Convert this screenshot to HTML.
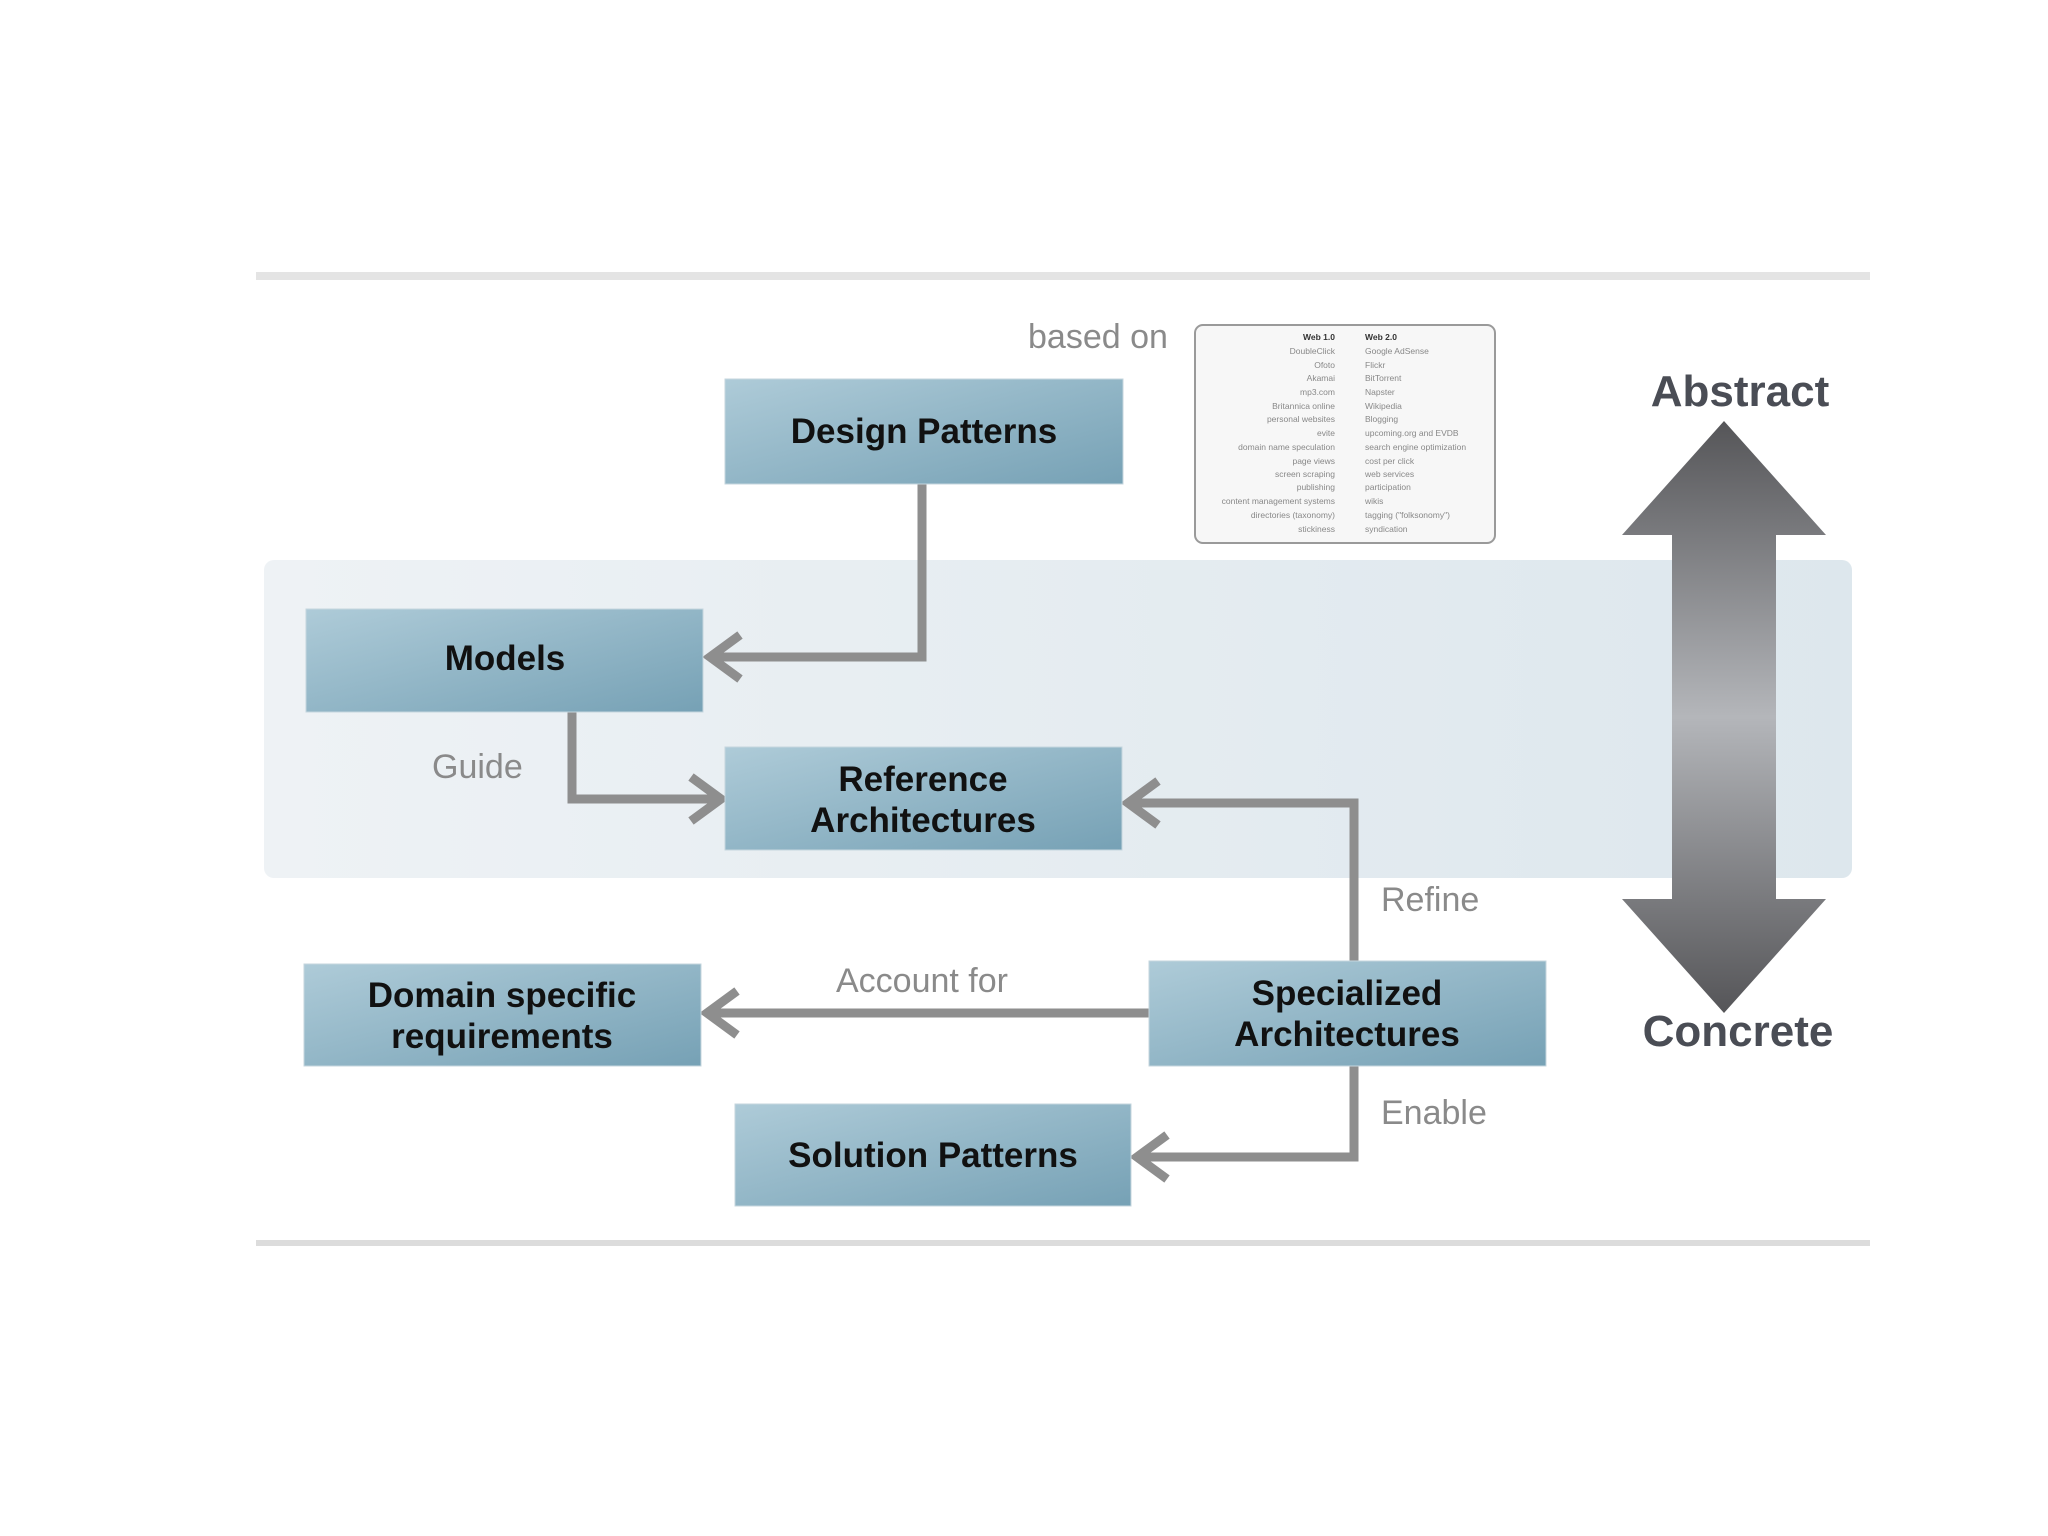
<!DOCTYPE html>
<html><head><meta charset="utf-8"><style>
html,body{margin:0;padding:0;background:#fff;}
svg{display:block;}
</style></head><body>
<svg width="2048" height="1536" viewBox="0 0 2048 1536" xmlns="http://www.w3.org/2000/svg" font-family="Liberation Sans, Arial, sans-serif">
<defs>
<linearGradient id="box" x1="0" y1="0" x2="1" y2="1">
<stop offset="0" stop-color="#aecbd8"/><stop offset="1" stop-color="#76a1b5"/>
</linearGradient>
<linearGradient id="band" x1="0" y1="0" x2="1" y2="0">
<stop offset="0" stop-color="#eef2f5"/><stop offset="1" stop-color="#dde7ed"/>
</linearGradient>
<linearGradient id="arr" x1="0" y1="0" x2="0" y2="1">
<stop offset="0" stop-color="#555558"/><stop offset="0.5" stop-color="#b4b6ba"/><stop offset="1" stop-color="#555558"/>
</linearGradient>
</defs>
<rect x="256" y="272" width="1614" height="8" fill="#e4e4e4"/>
<rect x="256" y="1240" width="1614" height="6" fill="#dcdcdc"/>
<rect x="264" y="560" width="1588" height="318" rx="10" fill="url(#band)"/>
<path d="M1724 421 L1826 535 L1776 535 L1776 899 L1826 899 L1724 1013 L1622 899 L1672 899 L1672 535 L1622 535 Z" fill="url(#arr)"/>
<text x="1740" y="406" font-size="44" font-weight="bold" fill="#4a4d55" text-anchor="middle">Abstract</text>
<text x="1738" y="1046" font-size="44" font-weight="bold" fill="#4a4d55" text-anchor="middle">Concrete</text>
<g fill="none" stroke="#8e8e8e" stroke-width="9" stroke-linejoin="miter">
<polyline points="922,483 922,657 710,657"/>
<polyline points="740,635 710,657 740,679"/>
<polyline points="572,712 572,799 721,799"/>
<polyline points="691,777 721,799 691,821"/>
<polyline points="1354,961 1354,803 1128,803"/>
<polyline points="1158,781 1128,803 1158,825"/>
<polyline points="1149,1013 707,1013"/>
<polyline points="737,991 707,1013 737,1035"/>
<polyline points="1354,1066 1354,1157 1137,1157"/>
<polyline points="1167,1135 1137,1157 1167,1179"/>
</g>
<g stroke="#c5d6de" stroke-width="1">
<rect x="725" y="379" width="398" height="105" fill="url(#box)"/>
<rect x="306" y="609" width="397" height="103" fill="url(#box)"/>
<rect x="725" y="747" width="397" height="103" fill="url(#box)"/>
<rect x="304" y="964" width="397" height="102" fill="url(#box)"/>
<rect x="1149" y="961" width="397" height="105" fill="url(#box)"/>
<rect x="735" y="1104" width="396" height="102" fill="url(#box)"/>
</g>
<g font-size="35" font-weight="bold" fill="#111" text-anchor="middle">
<text x="924" y="443">Design Patterns</text>
<text x="505" y="670">Models</text>
<text x="923" y="791">Reference</text>
<text x="923" y="832">Architectures</text>
<text x="502" y="1007">Domain specific</text>
<text x="502" y="1048">requirements</text>
<text x="1347" y="1005">Specialized</text>
<text x="1347" y="1046">Architectures</text>
<text x="933" y="1167">Solution Patterns</text>
</g>
<g font-size="34" fill="#8a8a8a">
<text x="1028" y="348">based on</text>
<text x="432" y="778">Guide</text>
<text x="1381" y="911">Refine</text>
<text x="836" y="992">Account for</text>
<text x="1381" y="1124">Enable</text>
</g>
<rect x="1195" y="325" width="300" height="218" rx="8" fill="#f7f7f7" stroke="#9a9a9a" stroke-width="2"/>
<g font-size="8.5" fill="#888">
<text x="1335" y="340" text-anchor="end" font-weight="bold" fill="#333">Web 1.0</text>
<text x="1365" y="340" font-weight="bold" fill="#333">Web 2.0</text>
<g text-anchor="end">
<text x="1335" y="354">DoubleClick</text><text x="1335" y="368">Ofoto</text><text x="1335" y="381">Akamai</text>
<text x="1335" y="395">mp3.com</text><text x="1335" y="409">Britannica online</text><text x="1335" y="422">personal websites</text>
<text x="1335" y="436">evite</text><text x="1335" y="450">domain name speculation</text><text x="1335" y="464">page views</text>
<text x="1335" y="477">screen scraping</text><text x="1335" y="490">publishing</text><text x="1335" y="504">content management systems</text>
<text x="1335" y="518">directories (taxonomy)</text><text x="1335" y="532">stickiness</text>
</g>
<text x="1365" y="354">Google AdSense</text><text x="1365" y="368">Flickr</text><text x="1365" y="381">BitTorrent</text>
<text x="1365" y="395">Napster</text><text x="1365" y="409">Wikipedia</text><text x="1365" y="422">Blogging</text>
<text x="1365" y="436">upcoming.org and EVDB</text><text x="1365" y="450">search engine optimization</text><text x="1365" y="464">cost per click</text>
<text x="1365" y="477">web services</text><text x="1365" y="490">participation</text><text x="1365" y="504">wikis</text>
<text x="1365" y="518">tagging ("folksonomy")</text><text x="1365" y="532">syndication</text>
</g>
</svg>
</body></html>
